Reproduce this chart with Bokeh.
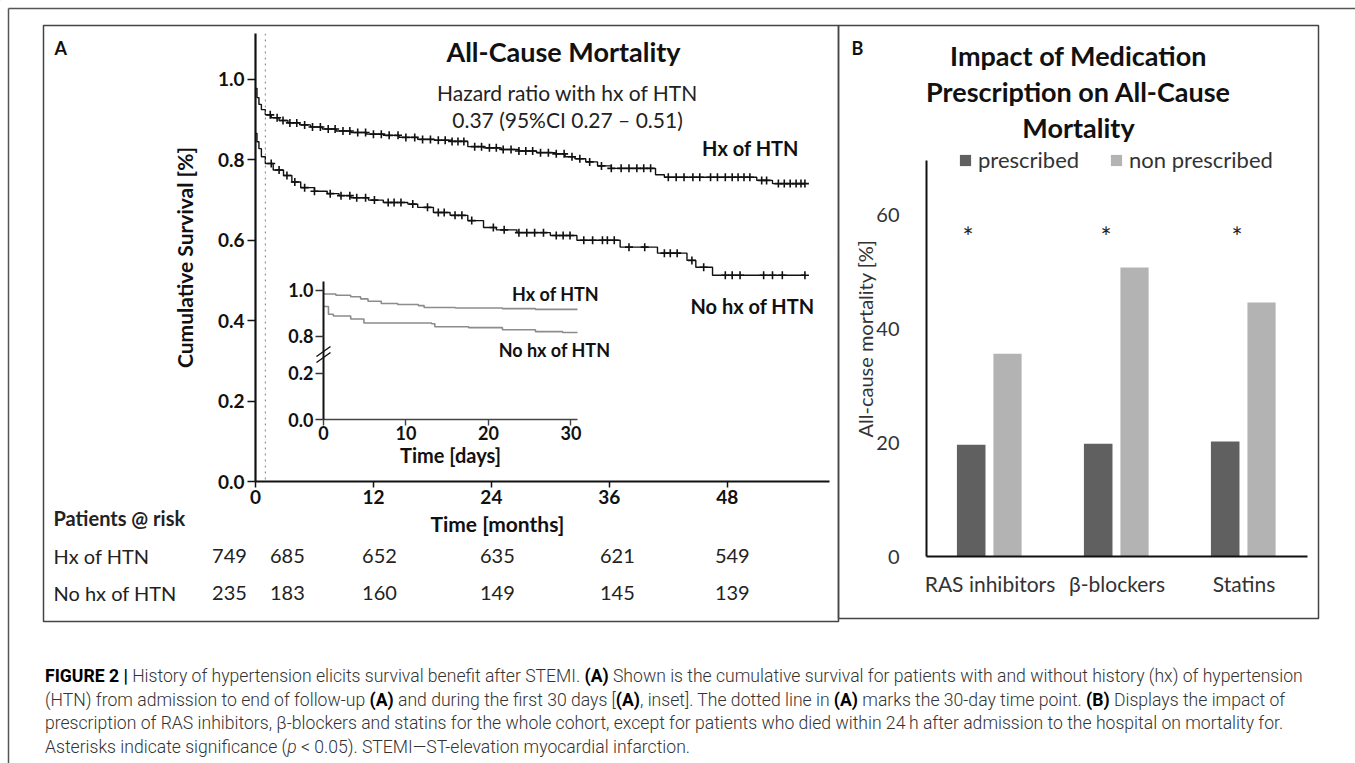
import numpy as np
from bokeh.plotting import figure
from bokeh.models import (Range1d, FactorRange, FixedTicker, Span, ColumnDataSource,
                          Legend, LegendItem, GridBox, Div, PrintfTickFormatter)
from bokeh.transform import dodge
from bokeh.core.properties import value
from bokeh.embed import file_html
from bokeh.resources import INLINE

FONT = "Lato"

# ---------------- data: panel A (Kaplan-Meier, months) ----------------
htn_t = [0, 0.15, 0.35, 0.6, 1.0, 1.6, 2.4, 3.3, 4.5, 5.6, 6.8, 8.2, 9.7, 11.3, 13.0,
         14.6, 16.5, 18.2, 20.0, 21.6, 23.2, 25.0, 26.8, 28.6, 30.5, 31.5, 32.5, 33.6,
         34.8, 36.2, 40.7, 41.6, 51.0, 52.6, 55.9]
htn_s = [0.978, 0.955, 0.938, 0.925, 0.912, 0.905, 0.898, 0.892, 0.887, 0.882, 0.877,
         0.872, 0.868, 0.864, 0.861, 0.856, 0.851, 0.849, 0.846, 0.833, 0.830, 0.826,
         0.822, 0.818, 0.815, 0.808, 0.803, 0.795, 0.785, 0.779, 0.763, 0.757, 0.749,
         0.741, 0.741]
nohtn_t = [0, 0.15, 0.35, 0.6, 1.0, 1.8, 2.85, 3.7, 4.6, 6.0, 7.3, 8.5, 9.7, 11.5, 13.0,
           15.5, 16.5, 18.1, 19.8, 21.6, 23.2, 24.5, 26.6, 30.0, 32.7, 37.1, 40.9, 43.9,
           44.8, 46.5, 55.9]
nohtn_s = [0.866, 0.845, 0.828, 0.808, 0.791, 0.775, 0.761, 0.745, 0.731, 0.722, 0.716,
           0.711, 0.706, 0.700, 0.694, 0.690, 0.682, 0.669, 0.662, 0.649, 0.632, 0.626,
           0.619, 0.612, 0.600, 0.583, 0.568, 0.550, 0.533, 0.513, 0.513]
htn_censor_t = [1.5, 2.2, 2.8, 3.5, 4.2, 5.0, 5.8, 6.6, 7.4, 8.1, 8.9, 9.6, 10.4, 11.2,
                12.0, 12.8, 13.6, 14.5, 15.3, 16.2, 17.0, 17.8, 18.6, 19.3, 20.0, 20.6,
                21.2, 22.3, 23.0, 23.8, 24.5, 25.2, 26.0, 26.8, 27.5, 28.2, 29.0, 29.8,
                30.6, 31.4, 32.2, 33.0, 34.0, 35.2, 36.2, 37.2, 38.0, 38.8, 39.5, 40.2,
                42.0, 42.8, 43.6, 44.5, 45.2, 46.3, 47.0, 47.8, 48.5, 49.1, 49.7, 50.3,
                51.5, 52.0, 53.2, 53.8, 54.4, 55.0, 55.5, 55.9]
nohtn_censor_t = [1.6, 2.4, 3.2, 4.0, 5.0, 6.0, 7.6, 8.7, 9.6, 10.3, 11.2, 12.1, 13.5,
                  14.1, 14.8, 16.0, 17.5, 18.6, 19.2, 20.3, 21.0, 22.0, 24.2, 25.3, 26.8,
                  27.6, 28.4, 29.3, 30.6, 31.3, 32.0, 33.4, 34.3, 35.3, 35.8, 36.5, 38.0,
                  39.6, 41.6, 42.2, 42.9, 44.4, 45.6, 47.8, 48.5, 49.3, 51.7, 52.6, 53.6,
                  55.9]
month_ticks = [0, 12, 24, 36, 48]
surv_ticks = [0.0, 0.2, 0.4, 0.6, 0.8, 1.0]

# inset (first 30 days)
inset_htn_t = [0, 1.5, 3.3, 4.5, 5.4, 7.0, 9.0, 11.5, 12.2, 16.0, 21.7, 25.7, 31.0]
inset_htn_s = [0.983, 0.978, 0.971, 0.962, 0.952, 0.942, 0.938, 0.933, 0.925, 0.923,
               0.920, 0.917, 0.915]
inset_nohtn_t = [0, 0.6, 1.2, 3.3, 4.9, 13.1, 13.5, 17.6, 21.7, 25.7, 29.0, 31.0]
inset_nohtn_s = [0.929, 0.896, 0.888, 0.875, 0.858, 0.855, 0.842, 0.838, 0.829, 0.821,
                 0.817, 0.813]
day_ticks = [0, 10, 20, 30]
inset_tick_values = [0.0, 0.2, 0.8, 1.0]
inset_tick_labels = ["0.0", "0.2", "0.8", "1.0"]

# patients at risk
risk_times = [0, 1, 12, 24, 36, 48]
risk_htn = [749, 685, 652, 635, 621, 549]
risk_nohtn = [235, 183, 160, 149, 145, 139]

# ---------------- data: panel B ----------------
meds = ["RAS inhibitors", "β-blockers", "Statins"]
prescribed = [19.6, 19.8, 20.2]
non_prescribed = [35.6, 50.7, 44.6]
mort_ticks = [0, 20, 40, 60]

# ---------------- styling / layout constants ----------------
INK = "#111111"
DARK = "#606060"
LIGHT = "#b3b3b3"
INSET_GREY = "#8c8c8c"
BREAK_SHIFT = 0.442               # broken inset axis: upper section shifted down
RISK_DX = [-26, 22, 6, 6, 8, 5]   # px nudges of risk-table columns
STAR_DX = [-22, -11, -7]
STAR_Y = 56.0

A_W, A_H = 795, 596
A_BL, A_BR, A_BT, A_BB = 212, 9, 8, 140
A_XMAX, A_YMAX = 58.4, 1.1144


def clean(p):
    p.background_fill_alpha = 0
    p.border_fill_alpha = 0
    p.outline_line_color = None
    p.grid.visible = False


def step_at(ts, ss, q):
    idx = np.searchsorted(np.asarray(ts), np.asarray(q), side="right") - 1
    return np.asarray(ss)[idx]


# ================= Panel A main Kaplan-Meier =================
pA = figure(width=A_W, height=A_H, x_range=Range1d(0, A_XMAX), y_range=Range1d(0, A_YMAX),
            output_backend="svg", toolbar_location=None,
            min_border_left=A_BL, min_border_right=A_BR, min_border_top=A_BT,
            min_border_bottom=A_BB)
clean(pA)
pA.step(htn_t, htn_s, mode="after", line_color=INK, line_width=1.4)
pA.step(nohtn_t, nohtn_s, mode="after", line_color=INK, line_width=1.4)
pA.scatter(htn_censor_t, step_at(htn_t, htn_s, htn_censor_t), marker="cross", size=8,
           line_color=INK, line_width=1.6)
pA.scatter(nohtn_censor_t, step_at(nohtn_t, nohtn_s, nohtn_censor_t), marker="cross",
           size=8, line_color=INK, line_width=1.6)
pA.add_layout(Span(location=1, dimension="height", line_color="#808080",
                   line_dash="dotted", line_width=1))

for ax in (pA.xaxis[0], pA.yaxis[0]):
    ax.axis_line_color = INK
    ax.axis_line_width = 2.2
    ax.major_tick_line_color = INK
    ax.major_tick_line_width = 1.5
    ax.major_tick_in = 0
    ax.minor_tick_line_color = None
    ax.major_label_text_font = FONT
    ax.major_label_text_font_style = "bold"
    ax.major_label_text_font_size = "19px"
    ax.major_label_text_color = INK
pA.xaxis.ticker = FixedTicker(ticks=month_ticks)
pA.xaxis.major_tick_out = 6
pA.xaxis.major_label_standoff = 2
pA.yaxis.ticker = FixedTicker(ticks=surv_ticks)
pA.yaxis.formatter = PrintfTickFormatter(format="%.1f")
pA.yaxis.major_tick_out = 8
pA.yaxis.major_label_standoff = 3
pA.yaxis.axis_label = "Cumulative Survival [%]"
pA.yaxis.axis_label_text_font = FONT
pA.yaxis.axis_label_text_font_style = "bold"
pA.yaxis.axis_label_text_font_size = "21px"
pA.yaxis.axis_label_text_color = INK
pA.yaxis.axis_label_standoff = 18

# ================= Panel A risk table (shares the month scale of pA) =================
R_W, R_H = 793, 130               # canvas 1 px inside panel A on the left
px_per_month = (A_W - A_BL - A_BR) / A_XMAX
r_left = 0 - (A_BL - 1) / px_per_month
r_right = A_XMAX + (A_BR - 1) / px_per_month
pR = figure(width=R_W, height=R_H, x_range=Range1d(r_left, r_right),
            y_range=Range1d(R_H, 0), output_backend="svg", toolbar_location=None,
            x_axis_type=None, y_axis_type=None, min_border=0)
clean(pR)
ROW_HEAD, ROW_1, ROW_2, ROW_TIME = 27, 65, 102, 33
risk_src = ColumnDataSource(dict(
    t=risk_times * 2,
    y=[ROW_1] * 6 + [ROW_2] * 6,
    dx=RISK_DX * 2,
    txt=[str(v) for v in risk_htn] + [str(v) for v in risk_nohtn]))
pR.text(x="t", y="y", text="txt", x_offset="dx", source=risk_src, text_font=value(FONT),
        text_font_size="20px", text_color="#222222", text_align="center",
        text_baseline="middle")
head_src = ColumnDataSource(dict(
    t=[r_left] * 3, y=[ROW_HEAD, ROW_1, ROW_2],
    txt=["Patients @ risk", "Hx of HTN", "No hx of HTN"],
    st=["bold", "normal", "normal"]))
pR.text(x="t", y="y", text="txt", x_offset=9, source=head_src, text_font=value(FONT),
        text_font_size="20px", text_font_style="st", text_color="#222222",
        text_align="left", text_baseline="middle")
pR.text(x=[24], y=[ROW_TIME], text=["Time [months]"], x_offset=6, text_font=value(FONT),
        text_font_size="21px", text_font_style="bold", text_color=INK,
        text_align="center", text_baseline="middle")

# ================= Panel A inset (30 days, broken y axis) =================
pI = figure(width=340, height=210, x_range=Range1d(0, 30.8), y_range=Range1d(0, 0.595),
            output_backend="svg", toolbar_location=None,
            min_border_left=43, min_border_right=43, min_border_top=11, min_border_bottom=61)
clean(pI)
pI.step(inset_htn_t, np.array(inset_htn_s) - BREAK_SHIFT, mode="after",
        line_color=INSET_GREY, line_width=1.6)
pI.step(inset_nohtn_t, np.array(inset_nohtn_s) - BREAK_SHIFT, mode="after",
        line_color=INSET_GREY, line_width=1.6)
inset_ticks = [v if v < 0.5 else v - BREAK_SHIFT for v in inset_tick_values]
for ax in (pI.xaxis[0], pI.yaxis[0]):
    ax.major_tick_in = 0
    ax.minor_tick_line_color = None
    ax.major_label_text_font = FONT
    ax.major_label_text_font_style = "bold"
    ax.major_label_text_font_size = "18px"
    ax.major_label_text_color = INK
pI.yaxis.ticker = FixedTicker(ticks=inset_ticks)
pI.yaxis.major_label_overrides = dict(zip(inset_ticks, inset_tick_labels))
pI.yaxis.axis_line_color = INK
pI.yaxis.axis_line_width = 2
pI.yaxis.major_tick_line_color = "#333333"
pI.yaxis.major_tick_line_width = 1.4
pI.yaxis.major_tick_out = 8
pI.yaxis.major_label_standoff = 2
pI.xaxis.ticker = FixedTicker(ticks=day_ticks)
pI.xaxis.axis_line_color = "#444444"
pI.xaxis.axis_line_width = 1.6
pI.xaxis.major_tick_line_color = "#444444"
pI.xaxis.major_tick_line_width = 1.4
pI.xaxis.major_tick_out = 6
pI.xaxis.major_label_standoff = 0
pI.xaxis.axis_label = "Time [days]"
pI.xaxis.axis_label_text_font = FONT
pI.xaxis.axis_label_text_font_style = "bold"
pI.xaxis.axis_label_text_font_size = "20px"
pI.xaxis.axis_label_text_color = INK
pI.xaxis.axis_label_standoff = 0

# ================= Panel B bars =================
pB = figure(width=480, height=592, x_range=FactorRange(*meds), y_range=Range1d(0, 69.5),
            output_backend="svg", toolbar_location=None,
            min_border_left=88, min_border_right=11, min_border_top=134, min_border_bottom=62)
clean(pB)
bsrc = ColumnDataSource(dict(meds=meds, pre=prescribed, non=non_prescribed,
                             sdx=STAR_DX, sy=[STAR_Y] * 3, star=["*"] * 3))
pB.vbar(x=dodge("meds", -0.148, range=pB.x_range), top="pre", width=0.225,
        source=bsrc, fill_color=DARK, line_color=None)
pB.vbar(x=dodge("meds", 0.138, range=pB.x_range), top="non", width=0.222,
        source=bsrc, fill_color=LIGHT, line_color=None)
pB.text(x="meds", y="sy", text="star", x_offset="sdx", source=bsrc, text_font=value(FONT),
        text_font_size="26px", text_align="center", text_baseline="middle",
        text_color="#222222")
for ax in (pB.xaxis[0], pB.yaxis[0]):
    ax.axis_line_color = INK
    ax.axis_line_width = 2
    ax.major_tick_line_color = None
    ax.minor_tick_line_color = None
    ax.major_label_text_font = FONT
    ax.major_label_text_color = "#333333"
pB.yaxis.ticker = FixedTicker(ticks=mort_ticks)
pB.yaxis.major_label_text_font_size = "20px"
pB.yaxis.major_label_standoff = 21
pB.xaxis.major_label_text_font_size = "21px"
pB.xaxis.major_label_standoff = 8

# ================= background: frames, titles, annotations =================
bg = figure(width=1355, height=763, x_range=Range1d(0, 1355), y_range=Range1d(763, 0),
            output_backend="svg", toolbar_location=None, x_axis_type=None, y_axis_type=None,
            min_border=0)
clean(bg)
bg.multi_line(xs=[[8, 1355], [8, 8]], ys=[[8, 8], [8, 763]], line_color="#555555",
              line_width=1.5)
bg.quad(left=[43, 838], right=[838, 1318], top=[25, 25], bottom=[621, 618],
        fill_alpha=0, line_color="#444444", line_width=1.5)
# inset axis break marks
bg.multi_line(xs=[[316, 330], [316, 330]], ys=[[356, 346], [362, 352]],
              line_color=INK, line_width=1.4)


def put(txt, x, y, size, bold=False, align="center", color=INK, angle=0.0):
    bg.text(x=[x], y=[y], text=[txt], text_font=value(FONT), text_font_size=f"{size}px",
            text_font_style="bold" if bold else "normal", text_align=align,
            text_baseline="middle", text_color=color, angle=angle)


put("A", 54, 47, 18, True, "left")
put("B", 851, 47, 18, True, "left")
put("All-Cause Mortality", 563, 51, 27, True)
put("Hazard ratio with hx of HTN", 567, 92, 21, False, color="#222222")
put("0.37 (95%CI 0.27 – 0.51)", 567, 119, 21, False, color="#222222")
put("Hx of HTN", 750, 147, 20, True)
put("No hx of HTN", 752, 305, 20, True)
put("Hx of HTN", 555, 293, 18, True)
put("No hx of HTN", 554, 349, 18, True)
put("Impact of Medication", 1078, 55, 27, True)
put("Prescription on All-Cause", 1078, 91, 27, True)
put("Mortality", 1078, 127, 27, True)
put("All-cause mortality [%]", 864, 338, 20, False, color="#333333", angle=np.pi / 2)

# legend of panel B (drawn on the background canvas so it may straddle the frame top);
# its two swatch renderers sit off-canvas and only lend their colours to the legend
lg1 = bg.vbar(x=[-100], top=[-100], bottom=[-101], width=1, fill_color=DARK,
              line_color=None)
lg2 = bg.vbar(x=[-100], top=[-100], bottom=[-101], width=1, fill_color=LIGHT,
              line_color=None)
legend = Legend(items=[LegendItem(label="prescribed", renderers=[lg1]),
                       LegendItem(label="non prescribed", renderers=[lg2])],
                orientation="horizontal", location=(958, 590), padding=0, margin=0,
                spacing=30, glyph_width=14, glyph_height=14, label_standoff=6,
                label_height=24, border_line_color=None, background_fill_alpha=0,
                label_text_font=FONT, label_text_font_size="22px",
                label_text_color="#333333")
bg.add_layout(legend)

caption_html = (
    '<div style="font-family:\'Roboto\',sans-serif;font-weight:300;'
    'font-size:17.6px;line-height:23.5px;color:#333;white-space:nowrap;'
    'padding:39px 0 0 40px;">'
    '<b style="color:#000;font-weight:700">FIGURE 2 |</b> History of hypertension elicits '
    'survival benefit after STEMI. <b style="color:#000;font-weight:700">(A)</b> Shown is the '
    'cumulative survival for patients with and without history (hx) of hypertension<br>'
    '(HTN) from admission to end of follow-up <b style="color:#000;font-weight:700">(A)</b> '
    'and during the first 30 days [<b style="color:#000;font-weight:700">(A)</b>, inset]. '
    'The dotted line in <b style="color:#000;font-weight:700">(A)</b> marks the 30-day time '
    'point. <b style="color:#000;font-weight:700">(B)</b> Displays the impact of<br>'
    'prescription of RAS inhibitors, β-blockers and statins for the whole cohort, except for '
    'patients who died within 24\u2009h after admission to the hospital on mortality for.<br>'
    'Asterisks indicate significance (<i>p</i> &lt; 0.05). STEMI—ST-elevation myocardial '
    'infarction.</div>')
cap = Div(text=caption_html, width=1355, height=142)

grid = GridBox(children=[(pA, 1, 1, 7, 5), (pI, 3, 3, 1, 1), (pR, 5, 2, 2, 3),
                         (pB, 2, 6, 4, 1), (cap, 8, 0, 1, 8), (bg, 0, 0, 9, 8)],
               rows=["25px", "1px", "244px", "210px", "10px", "128px", "2px", "1px",
                     "142px"],
               cols=["43px", "1px", "236px", "340px", "217px", "1px", "480px", "37px"])

open("out.html", "w").write(file_html(grid, INLINE))
